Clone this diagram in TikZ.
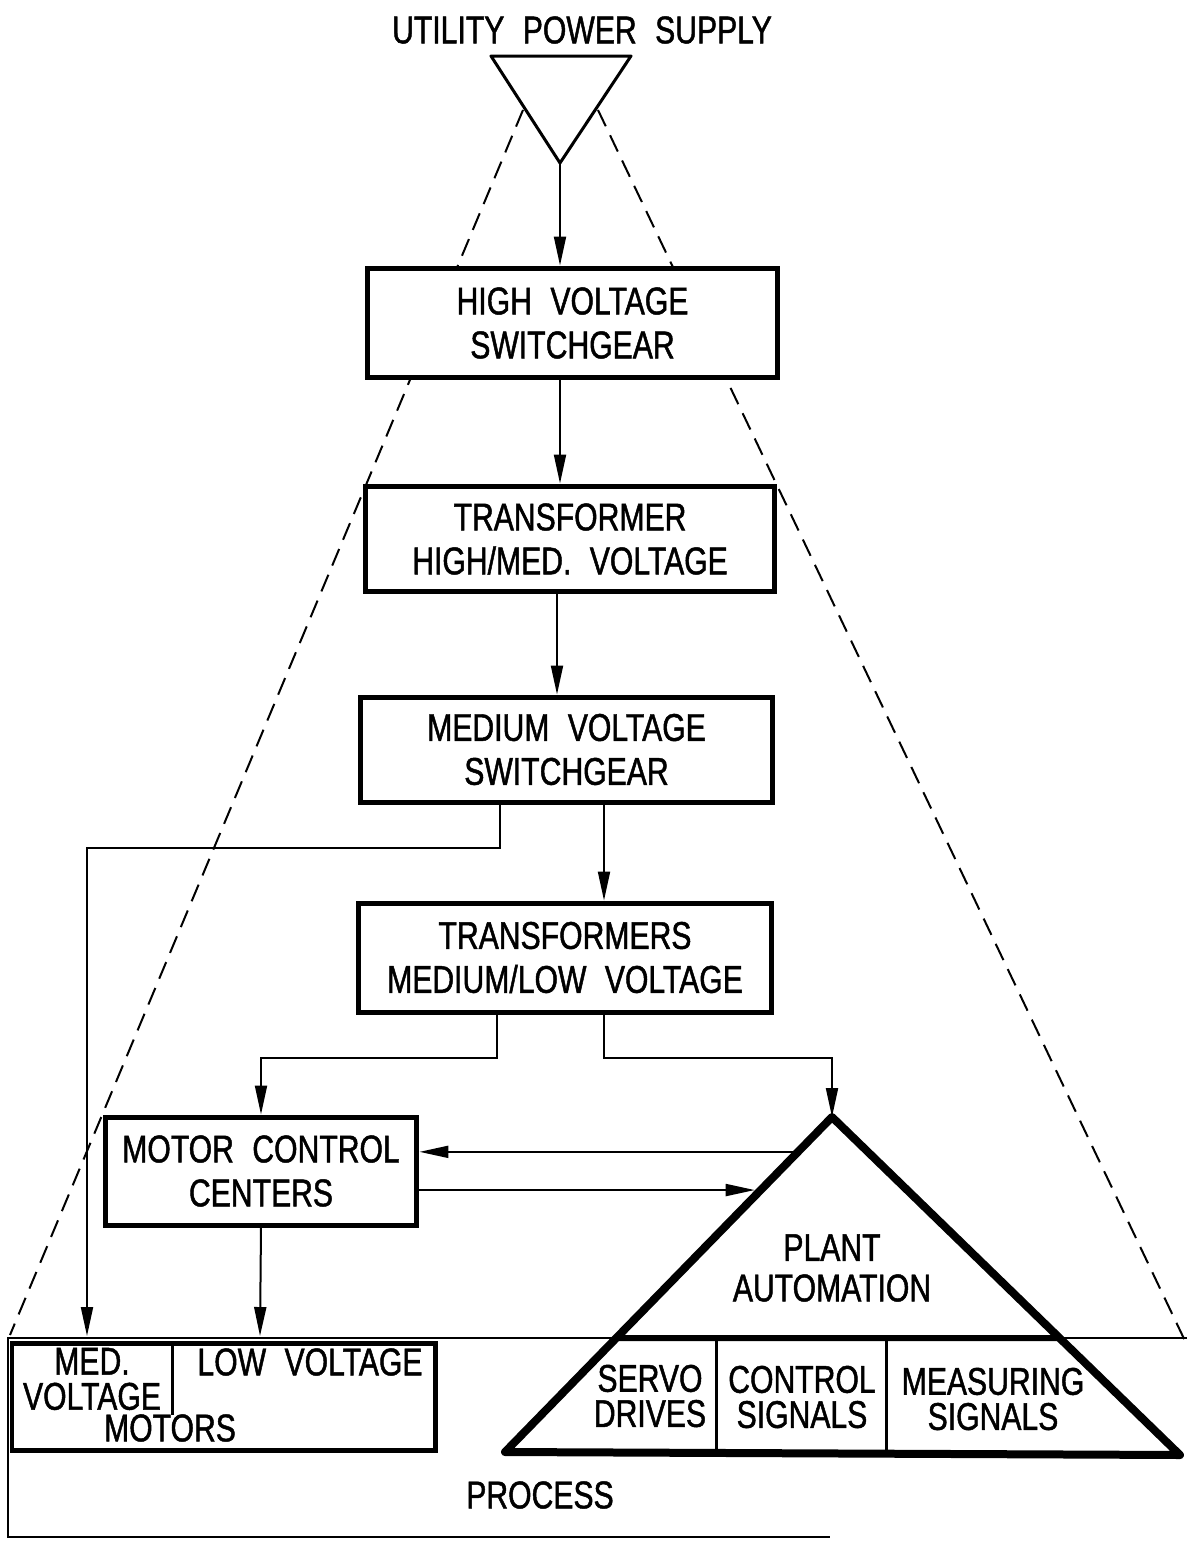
\documentclass[tikz,border=0pt]{standalone}
\usepackage{fontspec}
\setmainfont{Liberation Sans}[FakeStretch=0.78,WordSpace=2.2,FakeBold=1.2]
\usetikzlibrary{arrows.meta,calc}

\begin{document}
\begin{tikzpicture}[x=0.02cm,y=-0.02cm,font=\fontsize{22}{25}\selectfont,
    box node/.style={draw,line width=0.1cm,fill=white,align=center,inner sep=0pt},
    flow/.style={line width=0.04cm,-{Triangle[length=0.58cm,width=0.24cm]}},
    wire/.style={line width=0.04cm},
    outline/.style={line width=0.04cm,dash pattern=on 0.36cm off 0.2cm},
    tight/.style={align=center,font=\fontsize{22}{20}\selectfont}]
    \useasboundingbox (0,0) rectangle (1187,1542);

    % dashed outline of the whole plant
    \draw[outline] (523,110) -- (10,1335);
    \draw[outline] (598,110) -- (1187,1345);

    % supply
    \node (supply) at (582,30) {UTILITY POWER SUPPLY};
    \draw[line width=0.06cm,line join=round] (491,56) -- (631,56) -- (560,163) -- cycle;
    \coordinate (tip) at (560,163);

    % chain of boxes
    \node[box node,minimum width=8.22cm,minimum height=2.2cm] (hv) at (572.5,323) {HIGH VOLTAGE\\SWITCHGEAR};
    \node[box node,minimum width=8.2cm,minimum height=2.12cm] (tr) at (570,539) {TRANSFORMER\\HIGH/MED. VOLTAGE};
    \node[box node,minimum width=8.26cm,minimum height=2.1cm] (mv) at (566.5,749.5) {MEDIUM VOLTAGE\\SWITCHGEAR};
    \node[box node,minimum width=8.28cm,minimum height=2.18cm] (trs) at (565,957.5) {TRANSFORMERS\\MEDIUM/LOW VOLTAGE};
    \node[box node,minimum width=6.24cm,minimum height=2.16cm] (mcc) at (261,1171) {MOTOR CONTROL\\CENTERS};

    % plant automation
    \coordinate (apex) at (832,1117);
    \coordinate (bl) at (505,1452);
    \coordinate (br) at (1180,1455);
    \draw[line width=0.16cm,line join=round] (apex) -- (bl) -- (br) -- cycle;
    \draw[line width=0.12cm] ($(apex)!0.66!(bl)$) -- ($(apex)!0.654!(br)$);
    \draw[line width=0.06cm] (716,1340) -- (716,1453) (886,1340) -- (886,1454);
    \node[align=center,font=\fontsize{22}{23}\selectfont] (plant) at (832,1268) {PLANT\\AUTOMATION};
    \node[tight] (servo) at (650,1396) {SERVO\\DRIVES};
    \node[tight] (ctrl) at (802,1397) {CONTROL\\SIGNALS};
    \node[tight] (meas) at (993,1399) {MEASURING\\SIGNALS};

    % process
    \draw[wire] (1187,1338) -- (8,1338) -- (8,1537) -- (830,1537);
    \node (process) at (540,1495) {PROCESS};
    \draw[line width=0.1cm] (12,1343) rectangle (435,1450);
    \draw[line width=0.06cm] (172,1343) -- (172,1415);
    \node[tight] (med) at (92,1379) {MED.\\VOLTAGE};
    \node (low) at (310,1362) {LOW VOLTAGE};
    \node (motors) at (170,1428) {MOTORS};
    \coordinate (mvmot) at (87,1336);
    \coordinate (lvmot) at (260,1336);

    % feeds
    \draw[flow] (tip) -- (tip |- hv.north);
    \draw[flow] (hv.south -| tip) -- (tr.north -| tip);
    \draw[flow] (tr.south -| 557,0) -- (mv.north -| 557,0);
    \coordinate (mvL) at (500,802);
    \coordinate (mvR) at (604,802);
    \draw[flow] (mvR) -- (mvR |- trs.north);
    \draw[flow] (mvL) -- ++(0,46) -| (mvmot);
    \coordinate (trsL) at (497,1012);
    \coordinate (trsR) at (604,1012);
    \draw[flow] (trsL) -- ++(0,46) -| (mcc.north);
    \draw[flow] (trsR) -- ++(0,46) -| (apex);
    \draw[flow] (mcc.south) -- (lvmot);

    % signals between MCC and automation
    \coordinate (p1) at ($(apex)!0.104!(bl)$);
    \coordinate (p2) at ($(apex)!0.218!(bl)$);
    \draw[flow] (p1) -- (p1 -| mcc.east);
    \draw[flow] (mcc.east |- p2) -- ($(p2)+(-6,0)$);
\end{tikzpicture}
\end{document}
